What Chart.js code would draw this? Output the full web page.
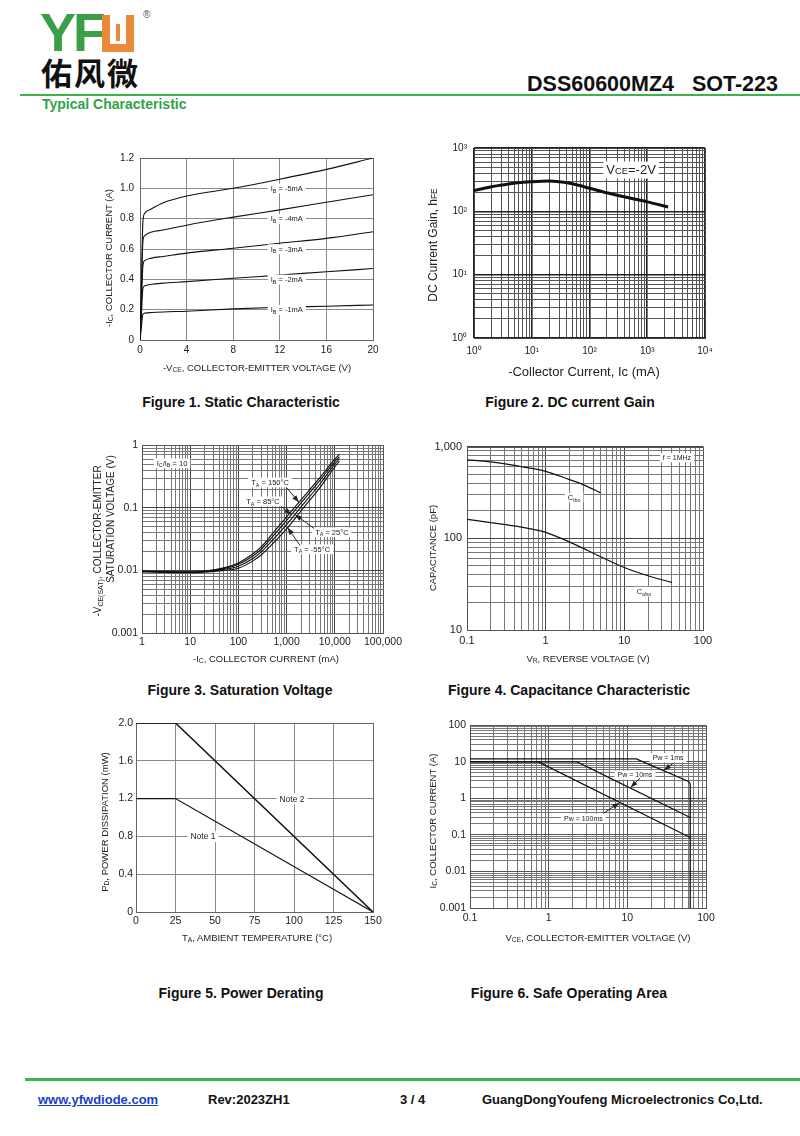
<!DOCTYPE html>
<html lang="en">
<head>
<meta charset="UTF-8">
<title>DSS60600MZ4 SOT-223 - Typical Characteristic</title>
<style>
  body { margin: 0; background: #fff; font-family: 'Liberation Sans', Arial, sans-serif; color: #111; }
  .page { position: relative; width: 800px; height: 1136px; overflow: hidden; }
  .abs { position: absolute; white-space: nowrap; }
  .plot { position: absolute; }
  .plot canvas { display: block; }
  .logo-yf { left: 40px; top: 5px; font-size: 54px; line-height: 54px; font-weight: bold; color: #3a9f48; letter-spacing: -3px; }
  .logo-w { left: 102px; top: 15px; width: 16px; height: 29px; border: 8px solid #e98a3b; border-top: none; }
  .logo-w i { position: absolute; left: 6px; bottom: 3px; width: 4px; height: 17px; background: #e98a3b; }
  .logo-r { left: 143px; top: 9px; font-size: 10px; color: #555; }
  .logo-cn { left: 41px; top: 52px; font-family: 'Noto Sans CJK SC', sans-serif; font-size: 31px; line-height: 40px; font-weight: bold; color: #111; letter-spacing: 2px; }
  .head { right: 22px; top: 72px; font-size: 21.5px; font-weight: bold; color: #111; }
  .rule { left: 20px; width: 780px; background: #3cb44b; }
  .sect { left: 42px; top: 96px; font-size: 14px; font-weight: bold; color: #31a347; }
  .tx { transform: translate(-50%, -50%); font-size: 9.5px; color: #222; }
  .ty { transform: translate(-50%, -50%) rotate(-90deg); font-size: 9.5px; color: #222; }
  .tx sub, .ty sub { font-size: 70%; vertical-align: -0.3em; line-height: 0; }
  .big { font-size: 13px; }
  .cap { transform: translate(-50%, -50%); font-size: 14px; font-weight: bold; color: #111; }
  .foot { top: 1092px; font-size: 13px; font-weight: bold; color: #111; }
  .foot a { color: #1b3fc4; text-decoration: underline; }
</style>
</head>
<body>
<div class="page">
  <div class="abs logo-yf">YF</div>
  <div class="abs logo-w"><i></i></div>
  <div class="abs logo-r">®</div>
  <div class="abs logo-cn">佑风微</div>
  <div class="abs head">DSS60600MZ4&nbsp;&nbsp;&nbsp;SOT-223</div>
  <div class="abs rule" style="top:94px;height:2px"></div>
  <div class="abs sect">Typical Characteristic</div>

  <div class="plot" id="fig1"><canvas></canvas></div>
  <div class="plot" id="fig2"><canvas></canvas></div>
  <div class="plot" id="fig3"><canvas></canvas></div>
  <div class="plot" id="fig4"><canvas></canvas></div>
  <div class="plot" id="fig5"><canvas></canvas></div>
  <div class="plot" id="fig6"><canvas></canvas></div>

  <!-- axis titles -->
  <div class="abs tx" style="left:257px;top:367px">-V<sub>CE</sub>, COLLECTOR-EMITTER VOLTAGE (V)</div>
  <div class="abs ty" style="left:108px;top:258px">-I<sub>C</sub>, COLLECTOR CURRENT (A)</div>
  <div class="abs tx big" style="left:584px;top:371px">-Collector Current, Ic (mA)</div>
  <div class="abs ty" style="left:433px;top:245px;font-size:12px">DC Current Gain, h<span style="font-size:70%">FE</span></div>
  <div class="abs tx" style="left:266px;top:658px">-I<sub>C</sub>, COLLECTOR CURRENT (mA)</div>
  <div class="abs ty" style="left:97px;top:541px;font-size:10px">-V<sub>CE(SAT)</sub>, COLLECTOR-EMITTER</div>
  <div class="abs ty" style="left:110px;top:519px;font-size:10px">SATURATION VOLTAGE (V)</div>
  <div class="abs tx" style="left:588px;top:658px">V<sub>R</sub>, REVERSE VOLTAGE (V)</div>
  <div class="abs ty" style="left:432px;top:548px">CAPACITANCE (pF)</div>
  <div class="abs tx" style="left:257px;top:937px">T<sub>A</sub>, AMBIENT TEMPERATURE (°C)</div>
  <div class="abs ty" style="left:104px;top:822px">P<sub>D</sub>, POWER DISSIPATION (mW)</div>
  <div class="abs tx" style="left:598px;top:937px">V<sub>CE</sub>, COLLECTOR-EMITTER VOLTAGE (V)</div>
  <div class="abs ty" style="left:432px;top:821px">I<sub>C</sub>, COLLECTOR CURRENT (A)</div>

  <!-- captions -->
  <div class="abs cap" style="left:241px;top:402px">Figure 1. Static Characteristic</div>
  <div class="abs cap" style="left:570px;top:402px">Figure 2. DC current Gain</div>
  <div class="abs cap" style="left:240px;top:690px">Figure 3. Saturation Voltage</div>
  <div class="abs cap" style="left:569px;top:690px">Figure 4. Capacitance Characteristic</div>
  <div class="abs cap" style="left:241px;top:993px">Figure 5. Power Derating</div>
  <div class="abs cap" style="left:569px;top:993px">Figure 6. Safe Operating Area</div>

  <div class="abs rule" style="top:1078px;left:25px;width:775px;height:3px"></div>
  <div class="abs foot" style="left:38px"><a>www.yfwdiode.com</a></div>
  <div class="abs foot" style="left:208px">Rev:2023ZH1</div>
  <div class="abs foot" style="left:400px">3 / 4</div>
  <div class="abs foot" style="left:482px">GuangDongYoufeng Microelectronics Co,Ltd.</div>
</div>

<script src="https://cdn.jsdelivr.net/npm/chart.js@4.4.0/dist/chart.umd.min.js"></script>
<script>
// ---------- Figure 1: static characteristic, -Ic (A) vs -Vce (V) ----------
const f1Vce  = [0, 0.1, 0.25, 0.4, 1, 2, 4, 8, 12, 16, 20];
const f1Ib5  = [0, 0.30, 0.78, 0.835, 0.865, 0.905, 0.95, 1.0, 1.06, 1.125, 1.2];
const f1Ib4  = [0, 0.25, 0.65, 0.688, 0.712, 0.725, 0.757, 0.81, 0.858, 0.908, 0.958];
const f1Ib3  = [0, 0.19, 0.49, 0.523, 0.54, 0.551, 0.573, 0.605, 0.638, 0.67, 0.714];
const f1Ib2  = [0, 0.13, 0.34, 0.357, 0.368, 0.375, 0.385, 0.407, 0.428, 0.45, 0.471];
const f1Ib1  = [0, 0.07, 0.17, 0.177, 0.181, 0.185, 0.19, 0.205, 0.216, 0.223, 0.231];
const f1IbNames = ['-5mA', '-4mA', '-3mA', '-2mA', '-1mA'];
const f1XTicks = ['0', '4', '8', '12', '16', '20'];
const f1YTicks = ['0', '0.2', '0.4', '0.6', '0.8', '1.0', '1.2'];

// ---------- Figure 2: DC current gain, hFE vs -Ic (mA) ----------
const f2Ic  = [1, 2, 3, 5, 10, 15, 20, 30, 50, 100, 200, 300, 500, 1000, 2300];
const f2Hfe = [213, 245, 260, 278, 293, 299, 300, 293, 272, 232, 196, 180, 162, 141, 117];
const f2XTicks = ['10⁰', '10¹', '10²', '10³', '10⁴'];
const f2YTicks = ['10⁰', '10¹', '10²', '10³'];

// ---------- Figure 3: saturation voltage, -Vce(sat) (V) vs -Ic (mA) ----------
const f3Ic     = [1, 3, 10, 20, 50, 100, 200, 300, 500, 1000, 2000, 5000, 10000, 12500];
const f3Ta150  = [0.0098, 0.0096, 0.0095, 0.0098, 0.011, 0.0132, 0.0185, 0.024, 0.038, 0.072, 0.135, 0.31, 0.6, 0.72];
const f3Ta85   = [0.0097, 0.0095, 0.0094, 0.0097, 0.0107, 0.0125, 0.017, 0.022, 0.034, 0.063, 0.12, 0.28, 0.55, 0.66];
const f3Ta25   = [0.0096, 0.0094, 0.0093, 0.0096, 0.0104, 0.0117, 0.0155, 0.020, 0.030, 0.054, 0.104, 0.245, 0.5, 0.61];
const f3TaM55  = [0.0095, 0.0093, 0.0092, 0.0094, 0.0100, 0.0108, 0.0142, 0.0178, 0.026, 0.046, 0.09, 0.215, 0.45, 0.56];
const f3XTicks = ['1', '10', '100', '1,000', '10,000', '100,000'];
const f3YTicks = ['0.001', '0.01', '0.1', '1'];

// ---------- Figure 4: capacitance (pF) vs reverse voltage (V) ----------
const f4VrCibo = [0.1, 0.2, 0.47, 1, 2, 3, 5];
const f4Cibo   = [718, 680, 608, 537, 437, 385, 313];
const f4VrCobo = [0.1, 0.2, 0.47, 1, 2.2, 5, 10, 20, 40];
const f4Cobo   = [161, 148, 133, 116, 88, 63, 48, 39, 33];
const f4XTicks = ['0.1', '1', '10', '100'];
const f4YTicks = ['10', '100', '1,000'];

// ---------- Figure 5: power derating, Pd vs Ta (°C) ----------
const f5Ta    = [0, 25, 150];
const f5Note2 = [2.0, 2.0, 0];
const f5Note1 = [1.2, 1.2, 0];
const f5XTicks = ['0', '25', '50', '75', '100', '125', '150'];
const f5YTicks = ['0', '0.4', '0.8', '1.2', '1.6', '2.0'];

// ---------- Figure 6: safe operating area, Ic (A) vs Vce (V) ----------
const f6Vce1ms   = [0.1, 13, 60, 63, 63];
const f6Ic1ms    = [12, 12, 2.9, 2.5, 0.001];
const f6Vce10ms  = [0.1, 2.3, 63];
const f6Ic10ms   = [10, 10, 0.3];
const f6Vce100ms = [0.1, 0.74, 63];
const f6Ic100ms  = [10, 10, 0.085];
const f6XTicks = ['0.1', '1', '10', '100'];
const f6YTicks = ['0.001', '0.01', '0.1', '1', '10', '100'];

const FONT = "'Liberation Sans', Arial, sans-serif";

const xy = (xs, ys) => xs.map((x, i) => ({ x, y: ys[i] }));
const isDecade = (v) => { const l = Math.log10(v); return Math.abs(l - Math.round(l)) < 1e-6; };

// text pieces: [text, 0 normal | 1 subscript | 2 small caps]
const t = (...p) => p.map((s, i) => [s, i % 2]);

function line(data, width, smooth) {
  return {
    data, borderColor: '#111', borderWidth: width || 1.1, pointRadius: 0, fill: false,
    cubicInterpolationMode: smooth ? 'monotone' : 'default', tension: 0
  };
}

function linAxis(pos, min, max, step, labels, st) {
  return {
    type: 'linear', position: pos, min, max,
    afterFit: (a) => { if (pos === 'left') a.width = st.size; else a.height = st.size; },
    ticks: {
      stepSize: step, autoSkip: false, maxRotation: 0, minRotation: 0, padding: st.pad,
      color: '#222', font: { family: FONT, size: st.font },
      callback: (v, i) => labels[i]
    },
    grid: { color: st.grid, lineWidth: 1, drawTicks: false },
    border: { display: false }
  };
}

function logAxis(pos, min, max, labels, st) {
  const e0 = Math.round(Math.log10(min));
  const e1 = Math.round(Math.log10(max));
  return {
    type: 'logarithmic', position: pos, min, max,
    afterFit: (a) => { if (pos === 'left') a.width = st.size; else a.height = st.size; },
    afterBuildTicks: (a) => {
      const ticks = [];
      for (let e = e0; e < e1; e++) {
        for (let m = 1; m < 10; m++) ticks.push({ value: +(m * Math.pow(10, e)).toPrecision(6) });
      }
      ticks.push({ value: max });
      a.ticks = ticks;
    },
    ticks: {
      autoSkip: false, maxRotation: 0, minRotation: 0, padding: st.pad,
      color: '#222', font: { family: FONT, size: st.font },
      callback: (v) => isDecade(v) ? labels[Math.round(Math.log10(v)) - e0] : ''
    },
    grid: {
      drawTicks: false,
      color: (c) => c.tick && isDecade(c.tick.value) ? st.major : st.grid,
      lineWidth: (c) => c.tick && isDecade(c.tick.value) ? (st.majorWidth || 1) : 1
    },
    border: { display: false }
  };
}

function drawParts(ctx, parts, cx, cy, size, bg) {
  const fontOf = (k) => (k ? size * 0.72 : size) + 'px ' + FONT;
  const widths = parts.map(([s, k]) => { ctx.font = fontOf(k); return ctx.measureText(s).width; });
  const w = widths.reduce((a, b) => a + b, 0);
  let x = cx - w / 2;
  if (bg) {
    ctx.fillStyle = '#fff';
    ctx.fillRect(x - 3, cy - size * 0.62, w + 6, size * 1.3);
  }
  ctx.fillStyle = '#222';
  ctx.textBaseline = 'alphabetic';
  ctx.textAlign = 'left';
  const base = cy + size * 0.36;
  parts.forEach(([s, k], i) => {
    ctx.font = fontOf(k);
    ctx.fillText(s, x, k === 1 ? base + size * 0.22 : base);
    x += widths[i];
  });
}

function drawArrow(ctx, x1, y1, x2, y2) {
  ctx.strokeStyle = '#222';
  ctx.fillStyle = '#222';
  ctx.lineWidth = 1;
  ctx.beginPath(); ctx.moveTo(x1, y1); ctx.lineTo(x2, y2); ctx.stroke();
  const a = Math.atan2(y2 - y1, x2 - x1), L = 7, W = 2.6;
  ctx.beginPath();
  ctx.moveTo(x2, y2);
  ctx.lineTo(x2 - L * Math.cos(a) + W * Math.sin(a), y2 - L * Math.sin(a) - W * Math.cos(a));
  ctx.lineTo(x2 - L * Math.cos(a) - W * Math.sin(a), y2 - L * Math.sin(a) + W * Math.cos(a));
  ctx.closePath(); ctx.fill();
}

// annotations in data coordinates, mapped through the chart's own scales
function notesPlugin(items, frame) {
  return {
    id: 'notes',
    beforeDatasetsDraw(chart) {
      const { ctx, chartArea: a } = chart;
      ctx.save();
      ctx.strokeStyle = frame;
      ctx.lineWidth = 1;
      ctx.strokeRect(Math.round(a.left) + 0.5, Math.round(a.top) + 0.5, Math.round(a.right - a.left), Math.round(a.bottom - a.top));
      ctx.restore();
    },
    afterDatasetsDraw(chart) {
      const { ctx, scales: { x, y } } = chart;
      ctx.save();
      for (const it of items) {
        if (it.arrow) {
          const [a, b, c, d] = it.arrow;
          drawArrow(ctx, x.getPixelForValue(a), y.getPixelForValue(b), x.getPixelForValue(c), y.getPixelForValue(d));
        } else {
          drawParts(ctx, it.parts, x.getPixelForValue(it.x), y.getPixelForValue(it.y), it.size, it.bg);
        }
      }
      ctx.restore();
    }
  };
}

function makePlot(id, area, yw, xh, scales, datasets, notes, frame) {
  const padT = 10, padR = 30;
  const box = document.getElementById(id);
  const cv = box.querySelector('canvas');
  box.style.left = (area.l - yw) + 'px';
  box.style.top = (area.t - padT) + 'px';
  cv.width = yw + area.r - area.l + padR;
  cv.height = padT + area.b - area.t + xh;
  cv.style.width = cv.width + 'px';
  cv.style.height = cv.height + 'px';
  return new Chart(cv, {
    type: 'line',
    data: { datasets },
    options: {
      responsive: false, animation: false, events: [],
      layout: { padding: { top: padT, right: padR, left: 0, bottom: 0 } },
      plugins: { legend: { display: false }, tooltip: { enabled: false } },
      scales
    },
    plugins: [notesPlugin(notes, frame)]
  });
}

// Figure 1
makePlot('fig1', { l: 140, t: 156, r: 373, b: 340 }, 40, 30, {
  x: linAxis('bottom', 0, 20, 4, f1XTicks, { size: 30, pad: 4, font: 10, grid: '#8a8a8a' }),
  y: linAxis('left', 0, 1.2, 0.2, f1YTicks, { size: 40, pad: 6, font: 10, grid: '#8a8a8a' })
}, [
  line(xy(f1Vce, f1Ib5), 1.1, true), line(xy(f1Vce, f1Ib4), 1.1, true), line(xy(f1Vce, f1Ib3), 1.1, true),
  line(xy(f1Vce, f1Ib2), 1.1, true), line(xy(f1Vce, f1Ib1), 1.1, true)
], f1IbNames.map((n, i) => ({ x: 12.6, y: 1.0 - i * 0.2, parts: t('I', 'B', ' = ' + n), size: 7.5, bg: true })), '#666');

// Figure 2
makePlot('fig2', { l: 474, t: 145, r: 705, b: 338 }, 40, 30, {
  x: logAxis('bottom', 1, 10000, f2XTicks, { size: 30, pad: 7, font: 10, grid: '#555', major: '#222', majorWidth: 1.6 }),
  y: logAxis('left', 1, 1000, f2YTicks, { size: 40, pad: 7, font: 10, grid: '#555', major: '#222', majorWidth: 1.6 })
}, [line(xy(f2Ic, f2Hfe), 3, true)],
[{ x: 525, y: 455, parts: [['V', 0], ['CE', 2], ['=-2V', 0]], size: 13, bg: true }], '#444');

// Figure 3
makePlot('fig3', { l: 142, t: 445, r: 383, b: 633 }, 40, 30, {
  x: logAxis('bottom', 1, 100000, f3XTicks, { size: 30, pad: 3, font: 10.5, grid: '#777', major: '#444' }),
  y: logAxis('left', 0.001, 1, f3YTicks, { size: 40, pad: 4, font: 10.5, grid: '#777', major: '#444' })
}, [
  line(xy(f3Ic, f3Ta150), 1.1, true), line(xy(f3Ic, f3Ta85), 1.1, true),
  line(xy(f3Ic, f3Ta25), 1.1, true), line(xy(f3Ic, f3TaM55), 1.1, true)
], [
  { x: 4.2, y: 0.52, parts: [['I', 0], ['C', 1], ['/I', 0], ['B', 1], [' = 10', 0]], size: 7.5, bg: true },
  { x: 455, y: 0.257, parts: t('T', 'A', ' = 150°C'), size: 7.5, bg: true },
  { arrow: [1000, 0.21, 1800, 0.123] },
  { x: 324, y: 0.128, parts: t('T', 'A', ' = 85°C'), size: 7.5, bg: true },
  { arrow: [780, 0.105, 1250, 0.078] },
  { x: 8700, y: 0.041, parts: t('T', 'A', ' = 25°C'), size: 7.5, bg: true },
  { arrow: [3700, 0.047, 1500, 0.078] },
  { x: 3380, y: 0.022, parts: t('T', 'A', ' = -55°C'), size: 7.5, bg: true },
  { arrow: [1900, 0.025, 1050, 0.048] }
], '#555');

// Figure 4
makePlot('fig4', { l: 467, t: 445, r: 703, b: 630 }, 40, 30, {
  x: logAxis('bottom', 0.1, 100, f4XTicks, { size: 30, pad: 4, font: 11, grid: '#777', major: '#444' }),
  y: logAxis('left', 10, 1000, f4YTicks, { size: 40, pad: 5, font: 11, grid: '#777', major: '#444' })
}, [line(xy(f4VrCibo, f4Cibo), 1.2, true), line(xy(f4VrCobo, f4Cobo), 1.2, true)], [
  { x: 2.3, y: 280, parts: t('C', 'ibo'), size: 7.5, bg: true },
  { x: 17.8, y: 26.3, parts: t('C', 'obo'), size: 7.5, bg: true },
  { x: 46.6, y: 760, parts: [['f = 1MHz', 0]], size: 7, bg: true }
], '#555');

// Figure 5
makePlot('fig5', { l: 136, t: 723, r: 373, b: 912 }, 40, 30, {
  x: linAxis('bottom', 0, 150, 25, f5XTicks, { size: 30, pad: 3, font: 10.5, grid: '#888' }),
  y: linAxis('left', 0, 2.0, 0.4, f5YTicks, { size: 40, pad: 3, font: 10.5, grid: '#888' })
}, [line(xy(f5Ta, f5Note2), 1.5, false), line(xy(f5Ta, f5Note1), 1.1, false)], [
  { x: 98.7, y: 1.2, parts: [['Note 2', 0]], size: 8.5, bg: true },
  { x: 42.4, y: 0.8, parts: [['Note 1', 0]], size: 8.5, bg: true }
], '#666');

// Figure 6
makePlot('fig6', { l: 470, t: 725, r: 706, b: 908 }, 40, 30, {
  x: logAxis('bottom', 0.1, 100, f6XTicks, { size: 30, pad: 4, font: 10.5, grid: '#777', major: '#555' }),
  y: logAxis('left', 0.001, 100, f6YTicks, { size: 40, pad: 4, font: 10.5, grid: '#777', major: '#555' })
}, [
  line(xy(f6Vce1ms, f6Ic1ms), 1.3, false), line(xy(f6Vce10ms, f6Ic10ms), 1.3, false), line(xy(f6Vce100ms, f6Ic100ms), 1.3, false)
], [
  { x: 33, y: 13.1, parts: [['Pw = 1ms', 0]], size: 7, bg: true },
  { arrow: [38.4, 9.2, 29.3, 5.9] },
  { x: 12.5, y: 4.4, parts: [['Pw = 10ms', 0]], size: 7, bg: true },
  { arrow: [14.5, 3.56, 11, 2.0] },
  { x: 2.76, y: 0.29, parts: [['Pw = 100ms', 0]], size: 7, bg: true },
  { arrow: [4.96, 0.39, 7.9, 0.75] }
], '#555');
</script>
</body>
</html>
